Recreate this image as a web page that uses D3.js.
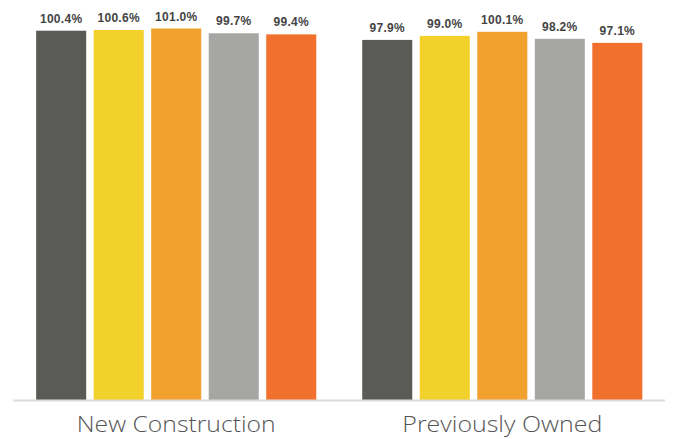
<!DOCTYPE html>
<html>
<head>
<meta charset="utf-8">
<script src="https://cdn.jsdelivr.net/npm/d3@7"></script>
<style>
  html, body { margin: 0; padding: 0; background: #ffffff; }
  svg { display: block; }
</style>
</head>
<body>
<svg id="chart" width="675" height="439"></svg>
<script>
// Home categories along the x axis
const categories = ["New Construction", "Previously Owned"];
// Five series shown side by side within each category
const seriesKeys = ["s1", "s2", "s3", "s4", "s5"];
const seriesColors = ["#5a5a57", "#f2d12b", "#f2a12e", "#a6a6a5", "#f2702d"];
// Sale-to-list price ratio (%) per series, one entry per category
const newConstruction = [100.4, 100.6, 101.0, 99.7, 99.4];
const previouslyOwned = [97.9, 99.0, 100.1, 98.2, 97.1];

const valuesByCategory = [newConstruction, previouslyOwned];

const width = 675, height = 439;
const baseline = 400;

const svg = d3.select("#chart");

const x0 = d3.scaleBand()
  .domain(categories)
  .range([13.5, 665])
  .paddingInner(0.118)
  .paddingOuter(0.058);

const x1 = d3.scaleBand()
  .domain(seriesKeys)
  .range([0, x0.bandwidth()])
  .paddingInner(0.13)
  .paddingOuter(0.065);

const y = d3.scaleLinear()
  .domain([0, 108.75])
  .range([baseline, 0]);

const color = d3.scaleOrdinal().domain(seriesKeys).range(seriesColors);

const groups = svg.selectAll("g.group")
  .data(categories.map((c, i) => ({ category: c, values: valuesByCategory[i] })))
  .join("g")
  .attr("class", "group")
  .attr("transform", d => `translate(${x0(d.category)},0)`);

const cells = groups.selectAll("g.cell")
  .data(d => seriesKeys.map((k, j) => ({ key: k, value: d.values[j] })))
  .join("g")
  .attr("class", "cell");

cells.append("rect")
  .attr("x", d => x1(d.key))
  .attr("y", d => y(d.value))
  .attr("width", x1.bandwidth())
  .attr("height", d => y(0) - y(d.value))
  .attr("fill", d => color(d.key));

cells.append("text")
  .attr("x", d => x1(d.key) + x1.bandwidth() / 2)
  .attr("y", d => y(d.value) - 8)
  .attr("text-anchor", "middle")
  .attr("font-family", "'Liberation Sans', Arial, sans-serif")
  .attr("font-weight", "bold")
  .attr("font-size", 12)
  .attr("letter-spacing", 0.3)
  .attr("fill", "#444444")
  .text(d => d.value.toFixed(1) + "%");

// Baseline and category labels
const xAxis = d3.axisBottom(x0).tickSize(0);
const axisG = svg.append("g")
  .attr("transform", `translate(0,${baseline})`)
  .call(xAxis);
axisG.select(".domain")
  .attr("d", `M13.5,0.5H665`)
  .attr("stroke", "#d9d9d9")
  .attr("stroke-width", 2);
axisG.selectAll(".tick text")
  .attr("y", 31.8)
  .attr("dy", null)
  .attr("font-family", "'Open Sans', 'Liberation Sans', Arial, sans-serif")
  .attr("font-size", 21.5)
  .attr("font-weight", 300)
  .attr("fill", "#555555")
  .attr("textLength", d => d === "New Construction" ? 199 : 200)
  .attr("lengthAdjust", "spacingAndGlyphs");
</script>
</body>
</html>
